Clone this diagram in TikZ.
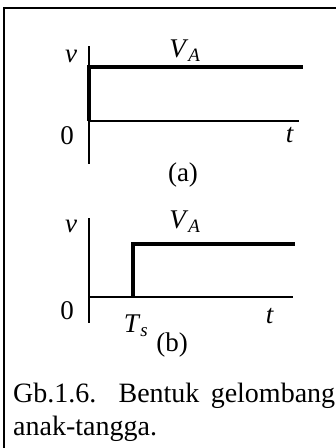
\documentclass[tikz,border=0pt]{standalone}
\usepackage{fontspec}
\setmainfont{Liberation Serif}
\begin{document}
\begin{tikzpicture}[x=1pt,y=-1pt,
  axis/.style={line width=2.6pt},
  wave/.style={line width=4pt},
  lbl/.style={inner sep=0pt,font=\fontsize{27}{31}\selectfont},
  frame/.style={line width=1.6pt}]
\useasboundingbox (0,0) rectangle (336,448);
% frame
\coordinate (f1) at (4,448);
\coordinate (f2) at (4,8);
\coordinate (f3) at (336,8);
\draw[frame] (f1) -- (f2) -- (f3);
% plot (a)
\coordinate (a0) at (89,121);
\coordinate (atop) at (89,46);
\coordinate (abot) at (89,164);
\coordinate (ah) at (89,67);
\coordinate (ahe) at (303,67);
\coordinate (aze) at (299,121);
\draw[axis] (atop) -- (abot);
\draw[axis] (a0) -- (aze);
\draw[wave] (a0) -- (ah) -- (ahe);
\node[lbl] (av) at (71,56) {\textit{v}};
\node[lbl] (aVA) at (185,51) {\textit{V}\textsubscript{\textit{A}}};
\node[lbl] (azero) at (67,136) {0};
\node[lbl] (at) at (290,135) {\textit{t}};
\node[lbl] (acap) at (183,175) {(a)};
% plot (b)
\coordinate (b0) at (89,297);
\coordinate (btop) at (89,218);
\coordinate (bbot) at (89,323);
\coordinate (bs) at (133,297);
\coordinate (bsh) at (133,244);
\coordinate (bhe) at (295,244);
\coordinate (bze) at (293,297);
\draw[axis] (btop) -- (bbot);
\draw[axis] (b0) -- (bze);
\draw[wave] (bs) -- (bsh) -- (bhe);
\node[lbl] (bv) at (71,226) {\textit{v}};
\node[lbl] (bVA) at (185,222) {\textit{V}\textsubscript{\textit{A}}};
\node[lbl] (bzero) at (67,311) {0};
\node[lbl] (bTs) at (136,326) {\textit{T}\textsubscript{\textit{s}}};
\node[lbl] (bt) at (270,316) {\textit{t}};
\node[lbl] (bcap) at (172,345) {(b)};
% caption
\node[anchor=base west, inner sep=0pt, text width=322pt, align=justify,
  font=\fontsize{28}{33}\selectfont] (cap) at (13,402)
  {Gb.1.6. Bentuk gelombang\linebreak anak-tangga.};
\end{tikzpicture}
\end{document}
